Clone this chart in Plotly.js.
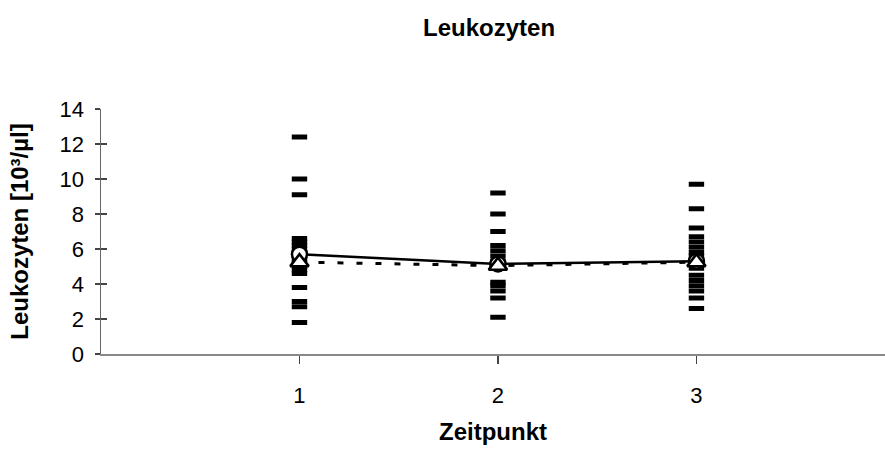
<!DOCTYPE html>
<html>
<head>
<meta charset="utf-8">
<script src="https://cdn.plot.ly/plotly-3.0.1.min.js"></script>
<style>html,body{margin:0;padding:0;background:#fff;}#chart{width:885px;height:459px;}</style>
</head>
<body>
<div id="chart"></div>
<script>
// Individual values per time point
var values1 = [12.4, 10.0, 9.1, 6.6, 6.4, 6.2, 6.0, 5.8, 5.6, 5.4, 5.2, 5.0, 4.8, 4.6, 3.8, 3.0, 2.7, 1.8];
var values2 = [9.2, 8.0, 7.0, 6.2, 5.9, 5.6, 5.3, 5.1, 4.9, 4.1, 3.9, 3.6, 3.2, 2.1];
var values3 = [9.7, 8.3, 7.2, 6.7, 6.4, 6.1, 5.8, 5.6, 5.2, 4.9, 4.5, 4.2, 3.9, 3.6, 3.2, 2.6];
var timepoints = [1, 2, 3];
var meanValues = [5.7, 5.15, 5.3];
var medianValues = [5.25, 5.05, 5.25];
var yTicks = [0, 2, 4, 6, 8, 10, 12, 14];

var indivX = [], indivY = [];
[values1, values2, values3].forEach(function(arr, i){
  arr.forEach(function(v){ indivX.push(timepoints[i]); indivY.push(v); });
});

var font = 'Liberation Sans, Arial, sans-serif';

var traces = [
  {x: indivX, y: indivY, type: 'scatter', mode: 'markers', showlegend: false,
   marker: {symbol: 'line-ew', size: 11, color: '#000', line: {color: '#000', width: 5}}},
  {x: timepoints, y: meanValues, type: 'scatter', mode: 'lines+markers', showlegend: false,
   line: {color: '#000', width: 2.5},
   marker: {symbol: 'circle', size: 15, color: '#fff', line: {color: '#000', width: 2.5}}},
  {x: timepoints, y: medianValues, type: 'scatter', mode: 'lines+markers', showlegend: false,
   line: {color: '#000', width: 3, dash: '6px,13px'},
   marker: {symbol: 'triangle-up', size: 16, color: '#fff', line: {color: '#000', width: 2.5}}}
];

var layout = {
  width: 885, height: 459,
  margin: {l: 101, r: 0, t: 109, b: 105, pad: 0},
  paper_bgcolor: '#fff', plot_bgcolor: '#fff',
  font: {family: font, color: '#000', size: 22},
  title: {text: '<b>Leukozyten</b>', font: {family: font, size: 24, color: '#000'},
          x: 0.495, xref: 'paper', xanchor: 'center', y: 0.94, yanchor: 'middle'},
  xaxis: {range: [0, 3.95], tickvals: timepoints, ticktext: timepoints.map(String),
          showgrid: false, zeroline: false, showline: true, linecolor: '#888', linewidth: 1.5,
          ticks: 'outside', ticklen: 8, tickwidth: 1.5, tickcolor: '#444',
          ticklabelstandoff: 13,
          tickfont: {family: font, size: 22, color: '#000'},
          title: {text: '<b>Zeitpunkt</b>', font: {family: font, size: 24, color: '#000'}, standoff: 16}},
  yaxis: {range: [0, 14], tickvals: yTicks, ticktext: yTicks.map(String),
          showgrid: false, zeroline: false, showline: true, linecolor: '#666', linewidth: 1.5,
          ticks: 'outside', ticklen: 5, tickwidth: 1.5, tickcolor: '#444',
          ticklabelstandoff: 6,
          tickfont: {family: font, size: 22, color: '#000'},
          title: {text: '<b>Leukozyten [10³/µl]</b>', font: {family: font, size: 24, color: '#000'}, standoff: 24}},
  yaxis2: {range: [0, 14], overlaying: 'y', side: 'left', tickvals: yTicks,
           showticklabels: false, showgrid: false, zeroline: false, showline: false,
           ticks: 'inside', ticklen: 6, tickwidth: 1.5, tickcolor: '#444'}
};

traces.push({x: [0], y: [0], yaxis: 'y2', type: 'scatter', mode: 'markers', showlegend: false,
             marker: {opacity: 0}, hoverinfo: 'skip'});

Plotly.newPlot('chart', traces, layout, {displayModeBar: false, staticPlot: true});
</script>
</body>
</html>
